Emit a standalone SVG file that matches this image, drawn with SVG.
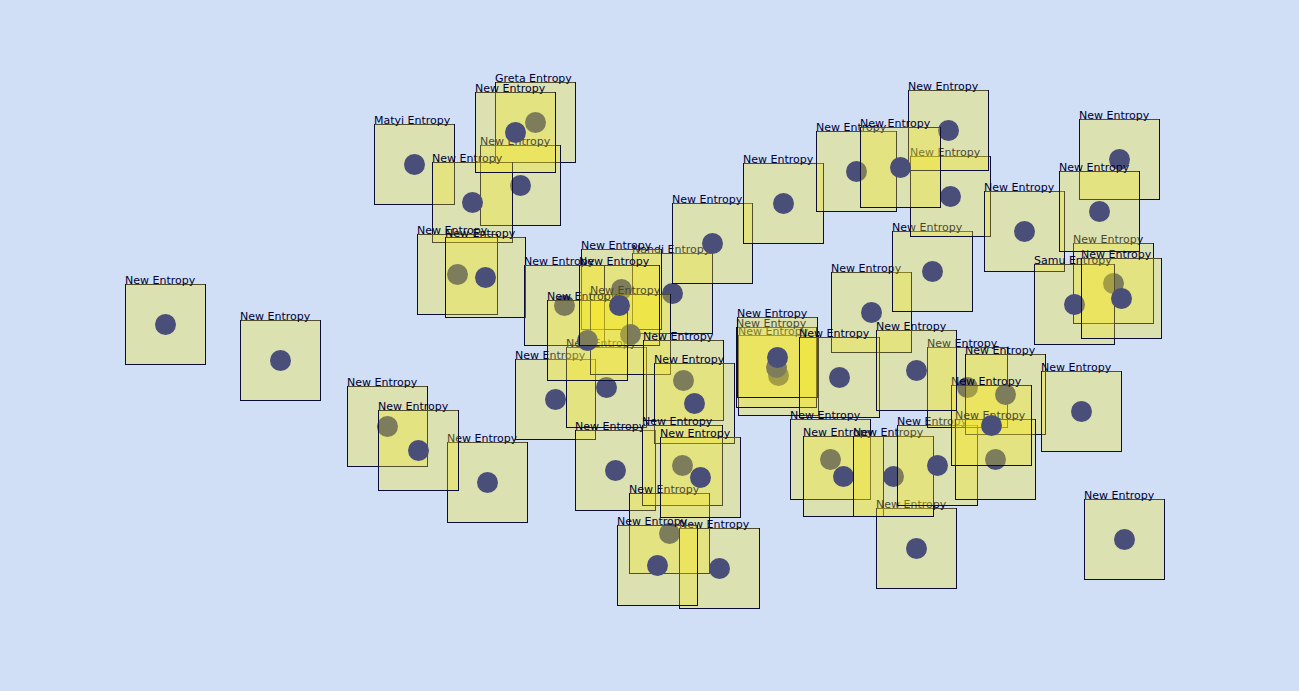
<svg xmlns="http://www.w3.org/2000/svg" xmlns:xlink="http://www.w3.org/1999/xlink" width="1299" height="691" viewBox="0 0 1299 691">
<style>
.s{fill:none;stroke:#0c0c38;stroke-width:1}
.f{fill:rgb(250,233,20);fill-opacity:0.3}
.d{fill:#4a4f7a}
text{font-family:"DejaVu Sans","Liberation Sans",sans-serif;font-size:11px;fill:#000033}
</style>
<defs>
<g id="box"><rect class="s" x="0.5" y="0.5" width="80" height="80"/><rect class="f" x="1" y="0" width="79" height="80"/><circle class="d" cx="40.5" cy="40.5" r="10.5"/></g>
</defs>
<rect width="1299" height="691" fill="#d0dff6"/>
<g id="nodes">
<g id="n-A" transform="translate(125,284)"><use href="#box"/><text y="0">New Entropy</text></g>
<g id="n-B" transform="translate(240,320)"><use href="#box"/><text y="0">New Entropy</text></g>
<g id="n-Matyi" transform="translate(374,124)"><use href="#box"/><text y="0">Matyi Entropy</text></g>
<g id="n-Greta" transform="translate(495,82)"><use href="#box"/><text y="0">Greta Entropy</text></g>
<g id="n-F" transform="translate(480,145)"><use href="#box"/><text y="0">New Entropy</text></g>
<g id="n-G" transform="translate(432,162)"><use href="#box"/><text y="0">New Entropy</text></g>
<g id="n-E" transform="translate(475,92)"><use href="#box"/><text y="0">New Entropy</text></g>
<g id="n-H" transform="translate(417,234)"><use href="#box"/><text y="0">New Entropy</text></g>
<g id="n-I" transform="translate(445,237)"><use href="#box"/><text y="0">New Entropy</text></g>
<g id="n-BC" transform="translate(347,386)"><use href="#box"/><text y="0">New Entropy</text></g>
<g id="n-BE" transform="translate(447,442)"><use href="#box"/><text y="0">New Entropy</text></g>
<g id="n-BD" transform="translate(378,410)"><use href="#box"/><text y="0">New Entropy</text></g>
<g id="n-Nandi" transform="translate(632,253)"><use href="#box"/><text y="0">Nandi Entropy</text></g>
<g id="n-K" transform="translate(581,249)"><use href="#box"/><text y="0">New Entropy</text></g>
<g id="n-R" transform="translate(672,203)"><use href="#box"/><text y="0">New Entropy</text></g>
<g id="n-S" transform="translate(743,163)"><use href="#box"/><text y="0">New Entropy</text></g>
<g id="n-J" transform="translate(524,265)"><use href="#box"/><text y="0">New Entropy</text></g>
<g id="n-Q" transform="translate(515,359)"><use href="#box"/><text y="0">New Entropy</text></g>
<g id="n-P" transform="translate(566,347)"><use href="#box"/><text y="0">New Entropy</text></g>
<g id="n-N" transform="translate(590,294)"><use href="#box"/><text y="0">New Entropy</text></g>
<g id="n-O" transform="translate(547,300)"><use href="#box"/><text y="0">New Entropy</text></g>
<g id="n-M" transform="translate(579,265)"><use href="#box"/><text y="0">New Entropy</text></g>
<g id="n-BF" transform="translate(575,430)"><use href="#box"/><text y="0">New Entropy</text></g>
<g id="n-AV" transform="translate(643,340)"><use href="#box"/><text y="0">New Entropy</text></g>
<g id="n-AW" transform="translate(654,363)"><use href="#box"/><text y="0">New Entropy</text></g>
<g id="n-AX" transform="translate(642,425)"><use href="#box"/><text y="0">New Entropy</text></g>
<g id="n-AZ" transform="translate(629,493)"><use href="#box"/><text y="0">New Entropy</text></g>
<g id="n-AY" transform="translate(660,437)"><use href="#box"/><text y="0">New Entropy</text></g>
<g id="n-BB" transform="translate(679,528)"><use href="#box"/><text y="0">New Entropy</text></g>
<g id="n-BA" transform="translate(617,525)"><use href="#box"/><text y="0">New Entropy</text></g>
<g id="n-AH" transform="translate(738,335)"><use href="#box"/><text y="0">New Entropy</text></g>
<g id="n-AG" transform="translate(736,327)"><use href="#box"/><text y="0">New Entropy</text></g>
<g id="n-AF" transform="translate(737,317)"><use href="#box"/><text y="0">New Entropy</text></g>
<g id="n-AB" transform="translate(831,272)"><use href="#box"/><text y="0">New Entropy</text></g>
<g id="n-AI" transform="translate(799,337)"><use href="#box"/><text y="0">New Entropy</text></g>
<g id="n-AQ" transform="translate(790,419)"><use href="#box"/><text y="0">New Entropy</text></g>
<g id="n-AR" transform="translate(803,436)"><use href="#box"/><text y="0">New Entropy</text></g>
<g id="n-AT" transform="translate(876,508)"><use href="#box"/><text y="0">New Entropy</text></g>
<g id="n-AS" transform="translate(853,436)"><use href="#box"/><text y="0">New Entropy</text></g>
<g id="n-AP" transform="translate(897,425)"><use href="#box"/><text y="0">New Entropy</text></g>
<g id="n-AA" transform="translate(892,231)"><use href="#box"/><text y="0">New Entropy</text></g>
<g id="n-W" transform="translate(910,156)"><use href="#box"/><text y="0">New Entropy</text></g>
<g id="n-V" transform="translate(908,90)"><use href="#box"/><text y="0">New Entropy</text></g>
<g id="n-T" transform="translate(816,131)"><use href="#box"/><text y="0">New Entropy</text></g>
<g id="n-U" transform="translate(860,127)"><use href="#box"/><text y="0">New Entropy</text></g>
<g id="n-X" transform="translate(1079,119)"><use href="#box"/><text y="0">New Entropy</text></g>
<g id="n-Z" transform="translate(984,191)"><use href="#box"/><text y="0">New Entropy</text></g>
<g id="n-AC" transform="translate(1073,243)"><use href="#box"/><text y="0">New Entropy</text></g>
<g id="n-Samu" transform="translate(1034,264)"><use href="#box"/><text y="0">Samu Entropy</text></g>
<g id="n-AD" transform="translate(1081,258)"><use href="#box"/><text y="0">New Entropy</text></g>
<g id="n-Y" transform="translate(1059,171)"><use href="#box"/><text y="0">New Entropy</text></g>
<g id="n-AK" transform="translate(927,347)"><use href="#box"/><text y="0">New Entropy</text></g>
<g id="n-AL" transform="translate(965,354)"><use href="#box"/><text y="0">New Entropy</text></g>
<g id="n-AO" transform="translate(955,419)"><use href="#box"/><text y="0">New Entropy</text></g>
<g id="n-AN" transform="translate(951,385)"><use href="#box"/><text y="0">New Entropy</text></g>
<g id="n-AM" transform="translate(1041,371)"><use href="#box"/><text y="0">New Entropy</text></g>
<g id="n-AJ" transform="translate(876,330)"><use href="#box"/><text y="0">New Entropy</text></g>
<g id="n-AU" transform="translate(1084,499)"><use href="#box"/><text y="0">New Entropy</text></g>
</g>
</svg>
